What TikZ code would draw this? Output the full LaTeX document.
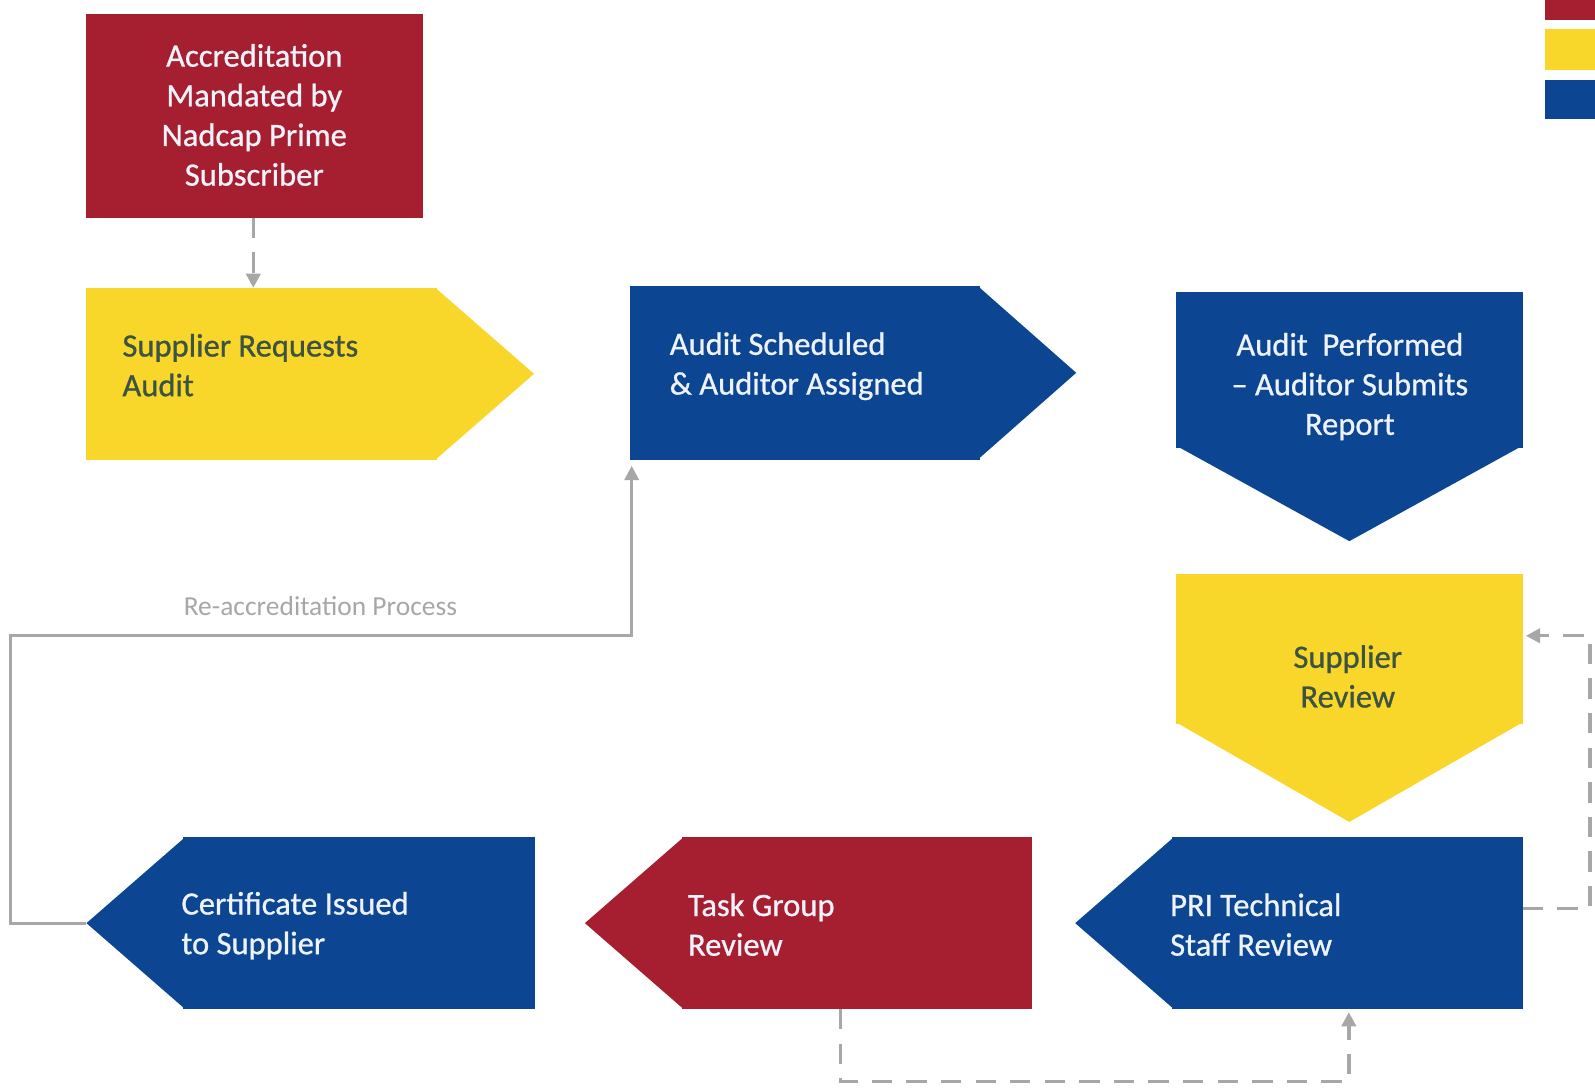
\documentclass[tikz,border=0pt]{standalone}
\usepackage{fontspec}
\setmainfont{Carlito}
\newfontfamily\boxfont{Carlito}[FakeBold=0.8, Ligatures=TeX]
\usetikzlibrary{arrows.meta,positioning}

\definecolor{nadred}{HTML}{A61F30}
\definecolor{nadyellow}{HTML}{F9D72A}
\definecolor{nadblue}{HTML}{0C4591}
\definecolor{linegray}{HTML}{A7A7A7}
\definecolor{darktext}{HTML}{3C5243}
\definecolor{lighttext}{HTML}{EEF2FA}

\begin{document}
\begin{tikzpicture}[
	% pixel-like units, y downwards
	x=0.5pt, y=-0.5pt,
	font=\boxfont\fontsize{16}{19.5}\selectfont,
	box/.style={inner sep=0pt, outer sep=0pt, minimum width=172.5pt, minimum height=84.5pt},
	vbox/.style={inner sep=0pt, outer sep=0pt, minimum width=170.5pt},
	darktxt/.style={inner sep=0pt, align=left, text=darktext},
	lighttxt/.style={inner sep=0pt, align=left, text=lighttext},
	dashline/.style={linegray, line width=1.7pt, dash pattern=on 10pt off 7pt,
		-{Triangle[width=7pt,length=7pt]}},
	loopline/.style={linegray, line width=1.5pt, -{Triangle[width=7pt,length=7pt]}},
	relabel/.style={inner sep=0pt, text=linegray, font=\rmfamily\fontsize{13.5}{15}\selectfont}
	]
	\useasboundingbox (0,0) rectangle (1568,1069.6);
	
	%
	% Legend (cut at the right edge)
	%
	\fill[nadred] (1519,-5) rectangle (1575,20);
	\fill[nadyellow] (1519,29) rectangle (1575,69);
	\fill[nadblue] (1519,79) rectangle (1575,117);
	
	%
	% Top row
	%
	\node[box, fill=nadred, minimum width=165.5pt, minimum height=100pt] (acc) at (250.5,114) {};
	\node[lighttxt, align=center] (acc-t) at (250,113) {Accreditation\\Mandated by\\Nadcap Prime\\Subscriber};
	
	\node[box, fill=nadyellow] (req) at (257.5,367.5) {};
	\fill[nadyellow] ([xshift=-1pt]req.north east) -- ([xshift=47.5pt]req.east) -- ([xshift=-1pt]req.south east) -- cycle;
	\node[darktxt, anchor=west] (req-t) at (120,359) {Supplier Requests\\Audit};
	
	\node[box, fill=nadblue, minimum width=172pt, minimum height=85.5pt] (sched) at (791,366.5) {};
	\fill[nadblue] ([xshift=-1pt]sched.north east) -- ([xshift=47.5pt]sched.east) -- ([xshift=-1pt]sched.south east) -- cycle;
	\node[lighttxt, anchor=west] (sched-t) at (658,360) {Audit Scheduled\\\& Auditor Assigned};
	
	%
	% Right column
	%
	\node[vbox, fill=nadblue, minimum height=76.5pt] (perf) at (1326.5,363.5) {};
	\fill[nadblue] ([yshift=1pt]perf.south west) -- ([yshift=-46pt]perf.south) -- ([yshift=1pt]perf.south east) -- cycle;
	\node[lighttxt, align=center] (perf-t) at (1327,380) {Audit\ \ Performed\\\textendash{} Auditor Submits\\Report};
	
	\node[vbox, fill=nadyellow, minimum height=74pt] (srev) at (1326.5,638) {};
	\fill[nadyellow] ([yshift=1pt]srev.south west) -- ([yshift=-48pt]srev.south) -- ([yshift=1pt]srev.south east) -- cycle;
	\node[darktxt, align=center] (srev-t) at (1325,665) {Supplier\\Review};
	
	%
	% Bottom row
	%
	\node[box, fill=nadblue] (pri) at (1324.5,907.5) {};
	\fill[nadblue] ([xshift=1pt]pri.north west) -- ([xshift=-47.5pt]pri.west) -- ([xshift=1pt]pri.south west) -- cycle;
	\node[lighttxt, anchor=west] (pri-t) at (1150,909) {PRI Technical\\Staff Review};
	
	\node[box, fill=nadred] (tgr) at (842.5,907.5) {};
	\fill[nadred] ([xshift=1pt]tgr.north west) -- ([xshift=-47.5pt]tgr.west) -- ([xshift=1pt]tgr.south west) -- cycle;
	\node[lighttxt, anchor=west] (tgr-t) at (676,909) {Task Group\\Review};
	
	\node[box, fill=nadblue, minimum width=173pt] (cert) at (353,907.5) {};
	\fill[nadblue] ([xshift=1pt]cert.north west) -- ([xshift=-47.5pt]cert.west) -- ([xshift=1pt]cert.south west) -- cycle;
	\coordinate (cert-tip) at ([xshift=-47.5pt]cert.west);
	\node[lighttxt, anchor=west] (cert-t) at (178,910) {Certificate Issued\\to Supplier};
	
	%
	% Connectors
	%
	\draw[dashline] ([xshift=-0.75pt]acc.south) -- ([xshift=-0.75pt]acc.south |- req.north);
	\draw[dashline] ([xshift=-8.25pt]tgr.south) |- (1326,1063) -- ([xshift=0.75pt,yshift=-1.5pt]pri.south);
	\draw[dashline] ([yshift=7.25pt]pri.east) -| (1563,625) -- ([xshift=1.5pt,yshift=6.5pt]srev.east);
	\draw[loopline] (cert-tip) -| (10,625) -| ([xshift=1pt,yshift=-3pt]sched.south west);
	\node[relabel] (reacc) at (315,596) {Re-accreditation Process};
\end{tikzpicture}
\end{document}
